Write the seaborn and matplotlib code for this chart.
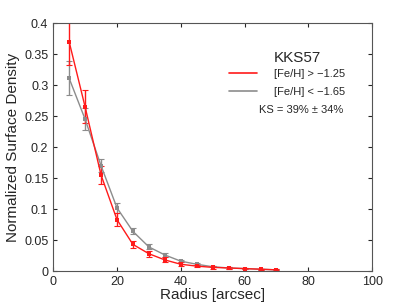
import numpy as np
import pandas as pd
import seaborn as sns
import matplotlib.pyplot as plt
from matplotlib.lines import Line2D

radius = [5, 10, 15, 20, 25, 30, 35, 40, 45, 50, 55, 60, 65, 70]
red_vals = [0.370, 0.265, 0.155, 0.083, 0.043, 0.028, 0.018, 0.011, 0.008, 0.006, 0.005, 0.004, 0.003, 0.002]
red_err = [0.038, 0.027, 0.015, 0.011, 0.006, 0.005, 0.004, 0.003, 0.002, 0.002, 0.001, 0.001, 0.001, 0.001]
gray_vals = [0.311, 0.245, 0.170, 0.102, 0.064, 0.039, 0.026, 0.016, 0.011, 0.007, 0.005, 0.004, 0.003, 0.002]
gray_err = [0.027, 0.018, 0.010, 0.008, 0.005, 0.004, 0.003, 0.002, 0.002, 0.001, 0.001, 0.001, 0.001, 0.001]
labels = ["[Fe/H] > \u22121.25", "[Fe/H] < \u22121.65"]

sns.set_style("ticks")
plt.rcParams['font.family'] = ['Liberation Sans', 'DejaVu Sans']

df = pd.DataFrame({
    "r": radius * 2,
    "dens": red_vals + gray_vals,
    "grp": [labels[0]] * len(radius) + [labels[1]] * len(radius),
})
cols = {labels[0]: "#ff1a1a", labels[1]: "#8c8c8c"}

fig = plt.figure(figsize=(4.09, 3.07), dpi=100)
ax = fig.add_axes([0.13, 0.117, 0.78, 0.808])

# gray first so red sits on top
ax.errorbar(radius, gray_vals, yerr=gray_err, fmt="none", ecolor="#8c8c8c", elinewidth=1, capsize=2.5, capthick=0.8)
ax.errorbar(radius, red_vals, yerr=red_err, fmt="none", ecolor="#ff1a1a", elinewidth=1, capsize=2.5, capthick=0.8)
sns.lineplot(data=df, x="r", y="dens", hue="grp", hue_order=labels[::-1], palette=cols,
             marker="s", markersize=3, markeredgewidth=0, linewidth=1, ax=ax, legend=False)

ax.set_xlim(0, 100)
ax.set_ylim(0, 0.4)
ax.set_xticks(np.arange(0, 101, 20))
ax.set_yticks(np.arange(0, 0.41, 0.05))
ax.set_yticklabels(["0", "0.05", "0.1", "0.15", "0.2", "0.25", "0.3", "0.35", "0.4"])
ax.tick_params(direction="in", top=True, right=True, labelsize=9, length=3, width=0.8)
for s in ax.spines.values():
    s.set_linewidth(0.8)
    s.set_color("#555555")
ax.set_xlabel("Radius [arcsec]", fontsize=11, labelpad=0)
ax.set_ylabel("Normalized Surface Density", fontsize=11, labelpad=3)

handles = [Line2D([], [], color="#ff1a1a", lw=1.2), Line2D([], [], color="#8c8c8c", lw=1.2)]
leg = ax.legend(handles, labels, frameon=False, fontsize=8,
                loc="upper left", bbox_to_anchor=(0.52, 0.855),
                handlelength=2.5, handletextpad=1.5, labelspacing=0.75)
ax.text(0.765, 0.859, "KKS57", transform=ax.transAxes, fontsize=11, ha="center", va="center")
ax.text(0.777, 0.65, "KS = 39% \u00b1 34%", transform=ax.transAxes, fontsize=8, ha="center", va="center")

fig.savefig("out.png", dpi=100)
